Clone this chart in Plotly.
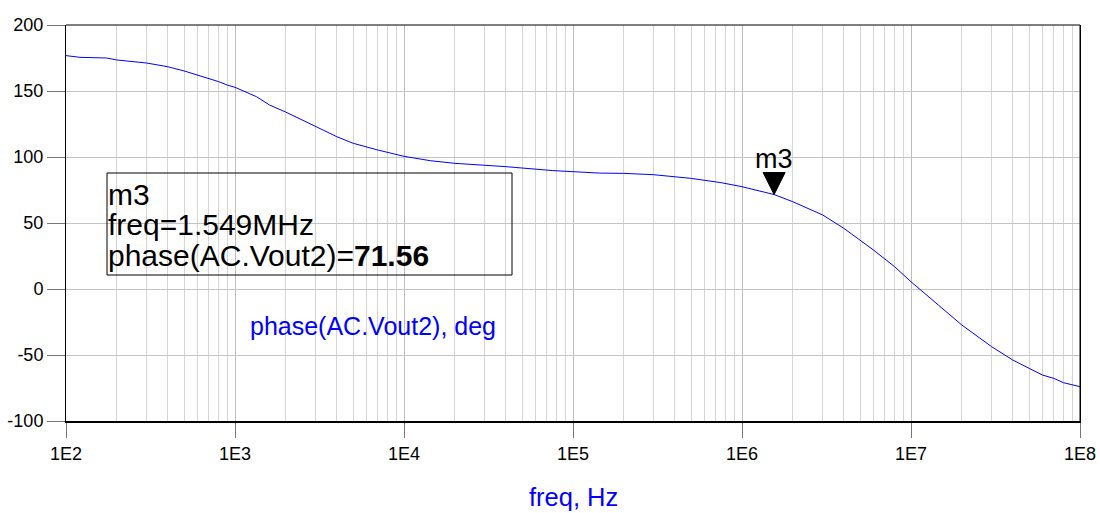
import math
import plotly.graph_objects as go

# ---- data ----
freq_hz = [1e2, 1.21e2, 1.74e2, 2e2, 3e2, 4e2, 5e2, 6e2, 7e2, 8e2, 9e2, 1e3,
           1.34e3, 1.6e3, 2e3, 3e3, 4e3, 5e3, 7e3, 1e4, 1.43e4, 2e4, 3e4, 4e4,
           7.6e4, 1e5, 1.44e5, 2e5, 3e5, 5e5, 7.5e5, 1e6, 1.549e6, 2e6, 3e6,
           4e6, 5e6, 6e6, 8e6, 1e7, 1.45e7, 2e7, 3e7, 4e7, 5e7, 6e7, 7e7, 8e7, 1e8]
phase_deg = [176.8, 175.5, 175.0, 173.5, 171.2, 168.4, 165.2, 162.1, 159.6, 157.1, 154.5, 152.8,
             145.7, 139.4, 134.0, 123.0, 115.4, 110.4, 105.3, 100.5, 97.2, 95.2, 93.9, 92.7,
             89.7, 88.9, 87.8, 87.6, 86.6, 83.8, 80.6, 77.5, 71.56, 66.1, 56.1,
             46.0, 37.1, 29.5, 16.9, 5.5, -12.1, -27.3, -43.7, -53.8, -60.1, -65.2, -67.7, -71.0, -74.0]

marker_name = "m3"
marker_freq = 1.549e6
marker_phase = 71.56
marker_freq_text = "1.549MHz"

x_tick_vals = [1e2, 1e3, 1e4, 1e5, 1e6, 1e7, 1e8]
x_tick_text = ["1E2", "1E3", "1E4", "1E5", "1E6", "1E7", "1E8"]
y_tick_vals = [-100, -50, 0, 50, 100, 150, 200]
y_tick_text = ["-100", "-50", "0", "50", "100", "150", "200"]

trace_label = "phase(AC.Vout2), deg"
x_title = "freq, Hz"

# minor grid positions (2..9 in each decade)
minor_vals = [m * 10 ** d for d in range(2, 8) for m in range(2, 10)]

FONT = "Liberation Sans, Arial, sans-serif"
BLUE = "#0000ff"

fig = go.Figure()
fig.add_trace(go.Scatter(x=freq_hz, y=phase_deg, mode="lines",
                         line=dict(color=BLUE, width=1), hoverinfo="skip",
                         showlegend=False))

fig.update_layout(
    width=1100, height=513,
    margin=dict(l=66, r=20, t=25, b=92, autoexpand=False),
    paper_bgcolor="white", plot_bgcolor="white",
    font=dict(family=FONT, color="black"),
    showlegend=False,
)

fig.update_xaxes(
    type="log", range=[2, 8], automargin=False,
    tickmode="array", tickvals=x_tick_vals, ticktext=x_tick_text,
    ticks="outside", ticklen=15, tickwidth=1, tickcolor="#777777",
    tickfont=dict(size=18, family=FONT, color="black"),
    showgrid=True, gridcolor="#bdbdbd", gridwidth=1,
    minor=dict(tickmode="array", tickvals=minor_vals, showgrid=True,
               gridcolor="#d4d4d4", gridwidth=1, ticks=""),
    showline=True, linecolor="black", linewidth=2,
    zeroline=False,
)
fig.update_yaxes(
    range=[-100, 200], automargin=False,
    tickmode="array", tickvals=y_tick_vals, ticktext=y_tick_text,
    ticks="outside", ticklen=18, tickwidth=1, tickcolor="#777777",
    tickfont=dict(size=18, family=FONT, color="black"),
    showgrid=True, gridcolor="#c4c4c4", gridwidth=1,
    showline=True, linecolor="black", linewidth=1, mirror=True,
    zeroline=False,
)

# top/right frame line
fig.add_shape(type="line", xref="x domain", yref="y domain", x0=0, x1=1, y0=1, y1=1,
              line=dict(color="black", width=1))
fig.add_shape(type="line", xref="x domain", yref="y domain", x0=1, x1=1, y0=0, y1=1,
              line=dict(color="black", width=1))

# marker triangle with tip on the data point
fig.add_shape(type="path", xref="x", yref="y",
              xsizemode="pixel", ysizemode="pixel",
              xanchor=marker_freq, yanchor=marker_phase,
              path="M -11 22 L 11 22 L 0 0 Z",
              fillcolor="black", line=dict(color="black", width=1))
fig.add_annotation(x=math.log10(marker_freq), y=marker_phase, xref="x", yref="y",
                   text=marker_name, showarrow=False, yshift=36,
                   font=dict(size=27, family=FONT, color="black"))

# readout box
def px_x(px):
    return (px - 66) / 1014.0

def px_y(py):
    return (421 - py) / 396.0

fig.add_shape(type="rect", xref="x domain", yref="y domain",
              x0=px_x(107), x1=px_x(512), y0=px_y(275), y1=px_y(173),
              line=dict(color="black", width=1), fillcolor="rgba(0,0,0,0)")
box_lines = [marker_name,
             "freq=" + marker_freq_text,
             "phase(AC.Vout2)=<b>%.2f</b>" % marker_phase]
box_centers = [194, 225, 255]
for txt, cy in zip(box_lines, box_centers):
    fig.add_annotation(xref="x domain", yref="y domain", x=px_x(106), y=px_y(cy),
                       xanchor="left", yanchor="middle", showarrow=False,
                       text=txt, font=dict(size=30, family=FONT, color="black"))

# trace label and x title
fig.add_annotation(xref="x domain", yref="y domain", x=px_x(248), y=px_y(326),
                   xanchor="left", yanchor="middle", showarrow=False,
                   text=trace_label, font=dict(size=25, family=FONT, color=BLUE))
fig.add_annotation(xref="x domain", yref="y domain", x=0.5, y=px_y(497),
                   xanchor="center", yanchor="middle", showarrow=False,
                   text=x_title, font=dict(size=25.5, family=FONT, color=BLUE))

fig.write_html("out.html")
